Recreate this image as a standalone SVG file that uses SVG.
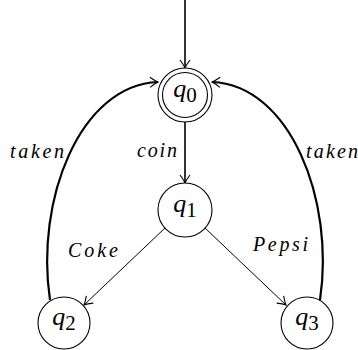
<svg xmlns="http://www.w3.org/2000/svg" width="358" height="350" viewBox="0 0 358 350">
<style>
.st{fill:#fff;stroke:#000;stroke-width:1.1}
.q{font-family:"Liberation Serif",serif;font-style:italic;font-size:26px;fill:#000}
.sub{font-style:normal;font-size:21px}
.lbl{font-family:"Liberation Serif",serif;font-style:italic;font-size:20px;fill:#000}
.e{fill:none;stroke:#000}
</style>
<defs>
<marker id="ah" markerUnits="userSpaceOnUse" viewBox="-10 -6 11 12" refX="0" refY="0" markerWidth="11" markerHeight="12" orient="auto" overflow="visible">
<path d="M -8 -5 Q -3 -1.2 0 0 Q -3 1.2 -8 5" fill="none" stroke="#000" stroke-width="1.1"/>
</marker>
</defs>
<g id="edges">
<path class="e" d="M 185 0 L 185 68" stroke-width="1.6" marker-end="url(#ah)"/>
<path class="e" d="M 185 122 L 185 183" stroke-width="1.6" marker-end="url(#ah)"/>
<path class="e" d="M 165 228 L 84 305" stroke-width="1" marker-end="url(#ah)"/>
<path class="e" d="M 205 228 L 286 305" stroke-width="1" marker-end="url(#ah)"/>
<path class="e" d="M 50 300 C 35 200 80 85 158 82" stroke-width="2.2" marker-end="url(#ah)"/>
<path class="e" d="M 320 300 C 335 200 290 85 212 82" stroke-width="2.2" marker-end="url(#ah)"/>
<text class="lbl" x="10" y="158" textLength="54" lengthAdjust="spacing">taken</text>
<text class="lbl" x="306" y="158" textLength="52" lengthAdjust="spacing">taken</text>
<text class="lbl" x="137" y="157" textLength="40" lengthAdjust="spacing">coin</text>
<text class="lbl" x="68" y="257" textLength="50" lengthAdjust="spacing">Coke</text>
<text class="lbl" x="253" y="251" textLength="55" lengthAdjust="spacing">Pepsi</text>
</g>
<g id="q0">
<circle class="st" cx="185" cy="95" r="27"/>
<circle class="st" cx="185" cy="95" r="22.5"/>
<text class="q" x="185" y="97" text-anchor="middle">q<tspan class="sub" dy="5">0</tspan></text>
</g>
<g id="q1">
<circle class="st" cx="185" cy="210" r="27"/>
<text class="q" x="185" y="212" text-anchor="middle">q<tspan class="sub" dy="5">1</tspan></text>
</g>
<g id="q2">
<circle class="st" cx="64" cy="323" r="26"/>
<text class="q" x="64" y="325" text-anchor="middle">q<tspan class="sub" dy="5">2</tspan></text>
</g>
<g id="q3">
<circle class="st" cx="307" cy="323" r="26"/>
<text class="q" x="307" y="325" text-anchor="middle">q<tspan class="sub" dy="5">3</tspan></text>
</g>
</svg>
